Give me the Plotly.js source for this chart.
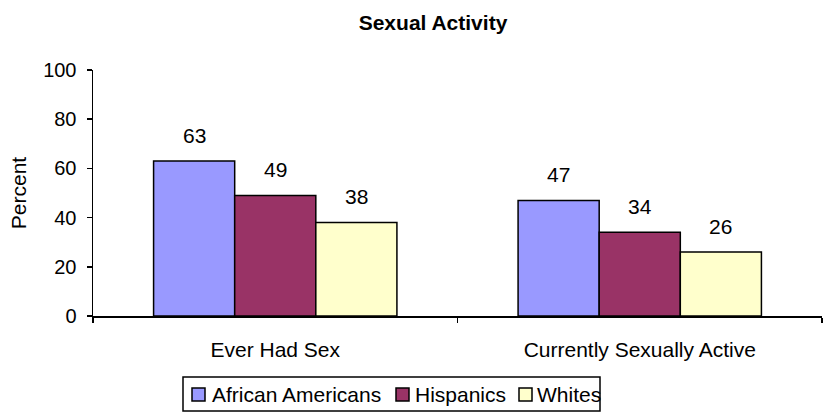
<!DOCTYPE html>
<html>
<head>
<meta charset="utf-8">
<script src="https://cdn.plot.ly/plotly-3.0.1.min.js"></script>
<style>html,body{margin:0;padding:0;background:#fff;}#chart{width:830px;height:412px;}</style>
</head>
<body>
<div id="chart"></div>
<script>
const categories = ["Ever Had Sex", "Currently Sexually Active"];
const seriesNames = ["African Americans", "Hispanics", "Whites"];
const africanAmericans = [63, 47];
const hispanics = [49, 34];
const whites = [38, 26];
const colors = ["#9999FF", "#993366", "#FFFFCC"];
const yTicks = [0, 20, 40, 60, 80, 100];

const FONT = "Liberation Sans, Arial, sans-serif";
const W = 830, H = 412;
const M = {l: 93, r: 8, t: 70, b: 96};
const plotW = W - M.l - M.r, plotH = H - M.t - M.b;
const px2x = px => (px - M.l) / plotW;
const px2y = py => (H - M.b - py) / plotH;

const seriesValues = [africanAmericans, hispanics, whites];
const traces = seriesValues.map((vals, i) => ({
  type: "bar",
  name: seriesNames[i],
  x: categories,
  y: vals,
  marker: {color: colors[i], line: {color: "#000", width: 1.5}},
  hoverinfo: "none",
  showlegend: false
}));

const barPx = 81;
const annotations = [];
seriesValues.forEach((vals, i) => {
  vals.forEach((v, j) => {
    annotations.push({
      x: categories[j], y: v, xref: "x", yref: "y",
      text: String(v), showarrow: false,
      xshift: (i - 1) * barPx, yshift: 26,
      yanchor: "middle",
      font: {family: FONT, size: 21, color: "#000"}
    });
  });
});

// custom legend (layout positions in pixels)
const legendBox = {x0: 183, x1: 600, y0: 377, y1: 411};
const legendSquareX = [192, 396, 519];
const legendTextX = [210, 413, 535];
const legendY = 394;
const shapes = [{
  type: "rect", xref: "paper", yref: "paper",
  x0: px2x(legendBox.x0), x1: px2x(legendBox.x1), y0: px2y(legendBox.y1), y1: px2y(legendBox.y0),
  line: {color: "#000", width: 1.5}, fillcolor: "#fff", layer: "below"
}];
seriesNames.forEach((name, i) => {
  shapes.push({
    type: "rect", xref: "paper", yref: "paper",
    x0: px2x(legendSquareX[i]), x1: px2x(legendSquareX[i] + 13),
    y0: px2y(legendY + 7), y1: px2y(legendY - 6),
    line: {color: "#000", width: 1.5}, fillcolor: colors[i]
  });
  annotations.push({
    xref: "paper", yref: "paper", x: px2x(legendTextX[i]), y: px2y(legendY),
    xanchor: "left", yanchor: "middle", showarrow: false, text: name,
    font: {family: FONT, size: 21, color: "#000"}
  });
});

const layout = {
  width: W, height: H,
  margin: M,
  paper_bgcolor: "#fff", plot_bgcolor: "#fff",
  font: {family: FONT, size: 21, color: "#000"},
  title: {text: "<b>Sexual Activity</b>", x: 433 / W, xanchor: "center", y: 1 - 23 / H, yanchor: "middle",
          font: {size: 21, family: FONT}},
  barmode: "group",
  bargap: 0.3324,
  bargroupgap: 0,
  showlegend: false,
  xaxis: {
    type: "category",
    showline: true, linecolor: "#000", linewidth: 1.5,
    ticks: "outside", tickson: "boundaries", ticklen: 5, tickcolor: "#000", tickwidth: 1.5,
    showgrid: false, zeroline: false, ticklabelstandoff: 14,
    tickfont: {size: 21}
  },
  yaxis: {
    range: [0, 100], tickvals: yTicks, ticktext: yTicks.map(String),
    showline: true, linecolor: "#000", linewidth: 1.5,
    ticks: "outside", ticklen: 5, tickcolor: "#000", tickwidth: 1.5,
    showgrid: false, zeroline: false, ticklabelstandoff: 6,
    tickfont: {size: 20},
    title: {text: "Percent", font: {size: 21}, standoff: 11}
  },
  shapes: shapes,
  annotations: annotations
};

Plotly.newPlot("chart", traces, layout, {displayModeBar: false, staticPlot: true});
</script>
</body>
</html>
